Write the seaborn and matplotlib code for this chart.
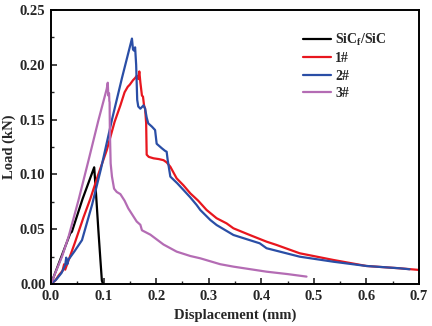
import numpy as np
import pandas as pd
import matplotlib
matplotlib.use("Agg")
import matplotlib.pyplot as plt
import seaborn as sns
from matplotlib.ticker import MultipleLocator, FormatStrFormatter

# Load-displacement curves (displacement in mm, load in kN)
sic_x = [0.000, 0.0367, 0.0398, 0.060, 0.0822, 0.0860, 0.090, 0.094, 0.0968, 0.0990]
sic_y = [0.000, 0.0462, 0.0477, 0.0775, 0.1065, 0.0800, 0.0500, 0.0220, 0.0030, 0.0000]

s1_x = [0.000, 0.008, 0.015, 0.022, 0.025, 0.027, 0.030, 0.045, 0.062, 0.075, 0.090, 0.106,
        0.121, 0.132, 0.140, 0.146, 0.150, 0.156, 0.160, 0.163, 0.166, 0.168, 0.170, 0.173,
        0.175, 0.177, 0.179, 0.181, 0.182, 0.186, 0.195, 0.205, 0.214, 0.220, 0.227, 0.239,
        0.252, 0.265, 0.280, 0.296, 0.315, 0.334, 0.347, 0.378, 0.410, 0.429, 0.473, 0.537,
        0.600, 0.663, 0.700]
s1_y = [0.000, 0.003, 0.008, 0.012, 0.018, 0.013, 0.017, 0.037, 0.061, 0.078, 0.100, 0.122,
        0.148, 0.163, 0.175, 0.180, 0.182, 0.186, 0.188, 0.190, 0.187, 0.194, 0.184, 0.172,
        0.171, 0.163, 0.160, 0.147, 0.118, 0.116, 0.1147, 0.114, 0.113, 0.111, 0.107, 0.0964,
        0.090, 0.0827, 0.076, 0.0675, 0.060, 0.0553, 0.0508, 0.0447, 0.0386, 0.0356, 0.028, 0.0219,
        0.0164, 0.0143, 0.0128]

s2_x = [0.000, 0.010, 0.020, 0.027, 0.029, 0.031, 0.033, 0.045, 0.059, 0.078, 0.095, 0.116,
        0.135, 0.154, 0.156, 0.158, 0.160, 0.162, 0.164, 0.166, 0.170, 0.176, 0.179, 0.182,
        0.185, 0.192, 0.198, 0.201, 0.211, 0.217, 0.220, 0.222, 0.227, 0.240, 0.252, 0.265,
        0.277, 0.284, 0.303, 0.315, 0.347, 0.397, 0.410, 0.473, 0.537, 0.600, 0.663, 0.682]
s2_y = [0.000, 0.004, 0.010, 0.017, 0.024, 0.018, 0.022, 0.030, 0.040, 0.072, 0.105, 0.150,
        0.188, 0.224, 0.214, 0.213, 0.216, 0.200, 0.168, 0.162, 0.160, 0.163, 0.160, 0.152,
        0.1466, 0.1436, 0.1405, 0.128, 0.1238, 0.1215, 0.1207, 0.113, 0.098, 0.092, 0.0858, 0.079,
        0.0721, 0.0675, 0.0584, 0.0538, 0.0447, 0.0371, 0.0326, 0.0249, 0.0203, 0.0164, 0.0143, 0.0134]

s3_x = [0.000, 0.008, 0.021, 0.0334, 0.0524, 0.0715, 0.090, 0.106, 0.108, 0.109, 0.1105, 0.111,
        0.1115, 0.112, 0.1135, 0.116, 0.120, 0.125, 0.132, 0.140, 0.147, 0.155, 0.163, 0.170,
        0.173, 0.189, 0.214, 0.239, 0.265, 0.284, 0.322, 0.347, 0.410, 0.450, 0.486]
s3_y = [0.000, 0.0098, 0.025, 0.043, 0.0766, 0.113, 0.149, 0.178, 0.1837, 0.172, 0.174, 0.167,
        0.166, 0.140, 0.110, 0.098, 0.087, 0.084, 0.082, 0.076, 0.069, 0.063, 0.057, 0.054,
        0.049, 0.045, 0.036, 0.0295, 0.0255, 0.0234, 0.018, 0.0158, 0.0112, 0.009, 0.0067]

labels = ["SiC$_{\\rm f}$/SiC", "1#", "2#", "3#"]
colors = ["#000000", "#e8161e", "#2a4ea6", "#b46cb4"]

frames = []
for lab, xs, ys in zip(labels, [sic_x, s1_x, s2_x, s3_x], [sic_y, s1_y, s2_y, s3_y]):
    frames.append(pd.DataFrame({"Displacement": xs, "Load": ys, "Sample": lab}))
df = pd.concat(frames, ignore_index=True)

sns.set_style("white")
plt.rcParams["font.family"] = ["Liberation Serif", "DejaVu Serif"]
plt.rcParams["font.weight"] = "bold"
plt.rcParams["axes.labelweight"] = "bold"
plt.rcParams["mathtext.fontset"] = "custom"
plt.rcParams["mathtext.rm"] = "Liberation Serif:bold"
plt.rcParams["mathtext.bf"] = "Liberation Serif:bold"
plt.rcParams["mathtext.it"] = "Liberation Serif:bold"

fig = plt.figure(figsize=(4.32, 3.26), dpi=100)
ax = fig.add_axes([0.118, 0.129, 0.852, 0.840])

sns.lineplot(data=df, x="Displacement", y="Load", hue="Sample", hue_order=labels,
             palette=dict(zip(labels, colors)), sort=False, estimator=None,
             linewidth=1.6, ax=ax)

ax.set_xlim(0, 0.7)
ax.set_ylim(0, 0.25)
ax.xaxis.set_major_locator(MultipleLocator(0.1))
ax.xaxis.set_minor_locator(MultipleLocator(0.05))
ax.yaxis.set_major_locator(MultipleLocator(0.05))
ax.yaxis.set_minor_locator(MultipleLocator(0.025))
ax.xaxis.set_major_formatter(FormatStrFormatter("%.1f"))
ax.yaxis.set_major_formatter(FormatStrFormatter("%.2f"))
ax.tick_params(which="major", direction="in", length=4, width=1.2, labelsize=10.5,
               bottom=True, left=True, top=False, right=False, pad=4)
ax.tick_params(which="minor", direction="in", length=2.5, width=1.0,
               bottom=True, left=True, top=False, right=False)
for lbl in ax.get_xticklabels() + ax.get_yticklabels():
    lbl.set_fontweight("bold")
for sp in ax.spines.values():
    sp.set_linewidth(1.4)
    sp.set_color("black")

ax.set_xlabel("Displacement (mm)", fontsize=10.5, fontweight="bold", labelpad=4)
ax.set_ylabel("Load (kN)", fontsize=10.5, fontweight="bold", labelpad=3)

leg = ax.legend(loc="upper left", bbox_to_anchor=(0.685, 0.922), frameon=False,
                fontsize=10, handlelength=2.0, handletextpad=0.3, labelspacing=0.33,
                borderpad=0, borderaxespad=0)
for t in leg.get_texts():
    t.set_fontweight("bold")

fig.savefig("out.png", dpi=100)
